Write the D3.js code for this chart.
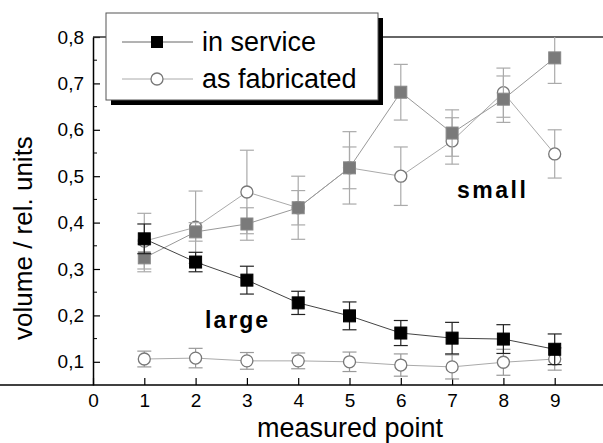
<!DOCTYPE html>
<html>
<head>
<meta charset="utf-8">
<script src="https://cdn.jsdelivr.net/npm/d3@7"></script>
<style>
  body { margin: 0; background: #fff; }
  text { font-family: "Liberation Sans", Arial, sans-serif; fill: #000; }
</style>
</head>
<body>
<svg width="603" height="443"></svg>
<script>
const points = [1, 2, 3, 4, 5, 6, 7, 8, 9];
const xTicks = [0, 1, 2, 3, 4, 5, 6, 7, 8, 9];
const yTicks = [0.1, 0.2, 0.3, 0.4, 0.5, 0.6, 0.7, 0.8];

// large grains
const serviceLarge    = [0.365, 0.315, 0.276, 0.227, 0.199, 0.162, 0.151, 0.149, 0.127];
const serviceLargeErr = [0.032, 0.021, 0.030, 0.025, 0.030, 0.027, 0.034, 0.031, 0.033];
const fabLarge        = [0.106, 0.108, 0.102, 0.102, 0.100, 0.093, 0.089, 0.099, 0.106];
const fabLargeErr     = [0.017, 0.021, 0.018, 0.017, 0.021, 0.024, 0.026, 0.028, 0.024];

// small grains
const serviceSmall    = [0.324, 0.380, 0.397, 0.432, 0.518, 0.681, 0.593, 0.666, 0.755];
const serviceSmallErr = [0.030, 0.020, 0.035, 0.037, 0.045, 0.060, 0.050, 0.050, 0.055];
const fabSmall        = [0.360, 0.390, 0.466, 0.432, 0.518, 0.500, 0.576, 0.680, 0.548];
const fabSmallErr     = [0.060, 0.078, 0.090, 0.068, 0.078, 0.063, 0.050, 0.053, 0.052];

const x = d3.scaleLinear().domain([0, 10]).range([93, 606]);
const y = d3.scaleLinear().domain([0.05, 0.8]).range([385, 37]);

const svg = d3.select('svg');

svg.append('clipPath').attr('id', 'plot')
  .append('rect').attr('x', 93).attr('y', 37).attr('width', 520).attr('height', 348);

const fmt = v => d3.format('.1f')(v).replace('.', ',');

// axes
const xAxis = svg.append('g').attr('transform', 'translate(0,385)')
  .call(d3.axisBottom(x).tickValues(xTicks).tickSizeInner(-7).tickSizeOuter(0).tickPadding(9).tickFormat(d3.format('d')));
const yAxis = svg.append('g').attr('transform', 'translate(93,0)')
  .call(d3.axisLeft(y).tickValues(yTicks).tickSizeInner(-7).tickSizeOuter(0).tickPadding(9).tickFormat(fmt));
// minor ticks
svg.append('g').selectAll('line')
  .data(d3.range(0.15, 0.8, 0.1))
  .join('line')
  .attr('x1', 93).attr('x2', 97)
  .attr('y1', d => y(d)).attr('y2', d => y(d))
  .attr('stroke', '#000');
[xAxis, yAxis].forEach(g => {
  g.select('.domain').attr('stroke', '#000').attr('stroke-width', 1.5);
  g.selectAll('.tick line').attr('stroke', '#000').attr('stroke-width', 1.2);
  g.selectAll('.tick text').style('font-size', '19px').style('font-family', '"Liberation Sans", Arial, sans-serif');
});
xAxis.select('.domain').attr('d', 'M0,0H603');
// top frame
svg.append('line').attr('x1', 93).attr('x2', 603).attr('y1', 37).attr('y2', 37)
  .attr('stroke', '#333').attr('stroke-width', 1.5);

const series = [
  { v: fabLarge, e: fabLargeErr, line: '#aaa', err: '#999', shape: 'circle', fill: '#fff', stroke: '#777' },
  { v: fabSmall, e: fabSmallErr, line: '#aaa', err: '#aaa', shape: 'circle', fill: '#fff', stroke: '#777' },
  { v: serviceSmall, e: serviceSmallErr, line: '#999', err: '#aaa', shape: 'square', fill: '#7a7a7a', stroke: '#888' },
  { v: serviceLarge, e: serviceLargeErr, line: '#444', err: '#222', shape: 'square', fill: '#000', stroke: '#000' }
];

const plot = svg.append('g').attr('clip-path', 'url(#plot)');
const line = d3.line().x(d => x(d.p)).y(d => y(d.v));

series.forEach(s => {
  const pts = points.map((p, i) => ({ p, v: s.v[i], e: s.e[i] }));
  const g = plot.append('g');
  const eb = g.selectAll('g.err').data(pts).join('g').attr('stroke', s.err).attr('stroke-width', 1.2);
  eb.append('line').attr('x1', d => x(d.p)).attr('x2', d => x(d.p))
    .attr('y1', d => y(d.v + d.e)).attr('y2', d => y(d.v - d.e));
  eb.append('line').attr('x1', d => x(d.p) - 7).attr('x2', d => x(d.p) + 7)
    .attr('y1', d => y(d.v + d.e)).attr('y2', d => y(d.v + d.e));
  eb.append('line').attr('x1', d => x(d.p) - 7).attr('x2', d => x(d.p) + 7)
    .attr('y1', d => y(d.v - d.e)).attr('y2', d => y(d.v - d.e));
  s.pts = pts;
  s.g = g;
});
series.forEach(s => {
  s.g.append('path').datum(s.pts).attr('d', line)
    .attr('fill', 'none').attr('stroke', s.line).attr('stroke-width', 1);
});
series.forEach(s => {
  if (s.shape === 'circle') {
    s.g.selectAll('circle').data(s.pts).join('circle')
      .attr('cx', d => x(d.p)).attr('cy', d => y(d.v)).attr('r', 6)
      .attr('fill', s.fill).attr('stroke', s.stroke).attr('stroke-width', 1.3);
  } else {
    s.g.selectAll('rect').data(s.pts).join('rect')
      .attr('x', d => x(d.p) - 6).attr('y', d => y(d.v) - 6)
      .attr('width', 12).attr('height', 12)
      .attr('fill', s.fill).attr('stroke', s.stroke);
  }
});

// annotations
svg.append('text').attr('x', 205).attr('y', 328).text('large')
  .style('font-size', '23px').style('font-weight', 'bold').style('letter-spacing', '2px');
svg.append('text').attr('x', 457).attr('y', 198).text('small')
  .style('font-size', '23px').style('font-weight', 'bold').style('letter-spacing', '2.5px');

// axis titles
svg.append('text').attr('x', 350).attr('y', 437).attr('text-anchor', 'middle')
  .style('font-size', '27px').text('measured point');
svg.append('text').attr('transform', 'translate(32,238) rotate(-90)').attr('text-anchor', 'middle')
  .style('font-size', '26px').text('volume / rel. units');

// legend
const lg = svg.append('g');
lg.append('rect').attr('x', 111).attr('y', 18).attr('width', 272).attr('height', 87).attr('fill', '#000');
lg.append('rect').attr('x', 106).attr('y', 13).attr('width', 272).attr('height', 87)
  .attr('fill', '#fff').attr('stroke', '#555').attr('stroke-width', 1);
lg.append('line').attr('x1', 122).attr('x2', 193).attr('y1', 42).attr('y2', 42).attr('stroke', '#666');
lg.append('rect').attr('x', 151).attr('y', 36).attr('width', 12).attr('height', 12).attr('fill', '#000');
lg.append('line').attr('x1', 122).attr('x2', 193).attr('y1', 79).attr('y2', 79).attr('stroke', '#aaa');
lg.append('circle').attr('cx', 157).attr('cy', 79).attr('r', 6).attr('fill', '#fff').attr('stroke', '#777').attr('stroke-width', 1.3);
lg.append('text').attr('x', 202).attr('y', 51).style('font-size', '27px').text('in service');
lg.append('text').attr('x', 202).attr('y', 88).style('font-size', '27px').text('as fabricated');
</script>
</body>
</html>
